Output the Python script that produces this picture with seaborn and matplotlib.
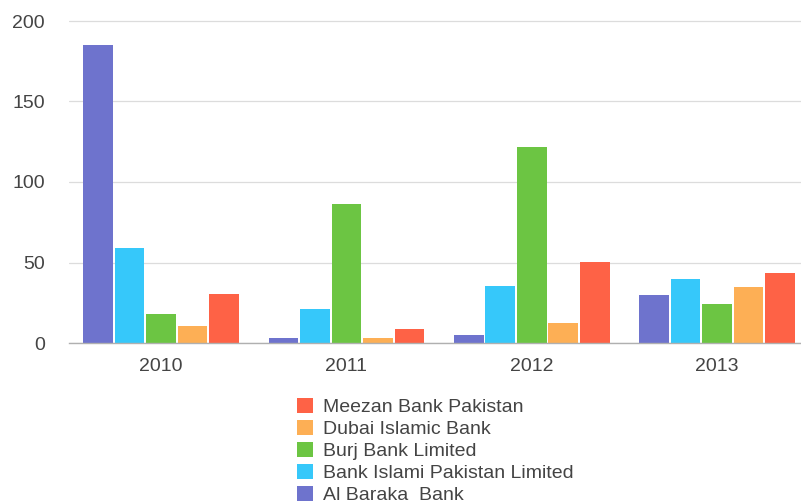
import matplotlib
matplotlib.use("Agg")
import matplotlib.pyplot as plt
from matplotlib.patches import Patch
import seaborn as sns
import pandas as pd

years = ["2010", "2011", "2012", "2013"]
banks = ["Al Baraka  Bank", "Bank Islami Pakistan Limited", "Burj Bank Limited",
         "Dubai Islamic Bank", "Meezan Bank Pakistan"]
al_baraka = [185, 3.3, 4.8, 29.6]
bank_islami = [58.8, 21, 35.6, 39.8]
burj = [18, 86.5, 122, 24.2]
dubai_islamic = [10.6, 3.3, 12.6, 34.6]
meezan = [30.4, 8.5, 50.1, 43.7]
colors = ["#6E73CD", "#36C8FA", "#6CC543", "#FDAF55", "#FE6246"]

series = [al_baraka, bank_islami, burj, dubai_islamic, meezan]
rows = []
for bank, vals in zip(banks, series):
    for yr, v in zip(years, vals):
        rows.append({"year": yr, "bank": bank, "value": v})
df = pd.DataFrame(rows)

sns.set_theme(style="white")
plt.rcParams["font.family"] = ["Liberation Sans", "DejaVu Sans"]

W, H = 801, 501
fig = plt.figure(figsize=(W / 100, H / 100), dpi=100)
left, right, bottom, top = 68.5, 801, 343, 2
ax = fig.add_axes([left / W, 1 - bottom / H, (right - left) / W, (bottom - top) / H])

sns.barplot(data=df, x="year", y="value", hue="bank", order=years, hue_order=banks,
            palette=colors, width=0.85, gap=0.06, saturation=1, ax=ax,
            legend=False, linewidth=0)

unit_px = 185.3
ax.set_xlim(-0.5, -0.5 + (right - left) / unit_px)
ax.set_ylim(0, (bottom - top) / 1.61)
ax.set_yticks([0, 50, 100, 150, 200])
ax.set_yticklabels(["0", "50", "100", "150", "200"])
ax.yaxis.grid(True, color="#dcdcdc", linewidth=0.9)
ax.set_axisbelow(True)
for s in ["top", "right", "left"]:
    ax.spines[s].set_visible(False)
ax.spines["bottom"].set_color("#b0b0b0")
ax.spines["bottom"].set_linewidth(1.0)
ax.tick_params(axis="both", length=0, labelsize=14, colors="#444444")
ax.tick_params(axis="y", pad=17)
ax.tick_params(axis="x", pad=11)
ax.set_xlabel("")
ax.set_ylabel("")

handles = [Patch(facecolor=c, edgecolor="none") for c in colors][::-1]
fig.legend(handles, banks[::-1], loc="upper left",
           bbox_to_anchor=(287 / W, 1 - 388 / H), frameon=False,
           fontsize=14, handlelength=0.85, handleheight=0.85,
           handletextpad=0.5, labelspacing=0.18, borderpad=0,
           labelcolor="#444444")

fig.savefig("out.png", dpi=100)
